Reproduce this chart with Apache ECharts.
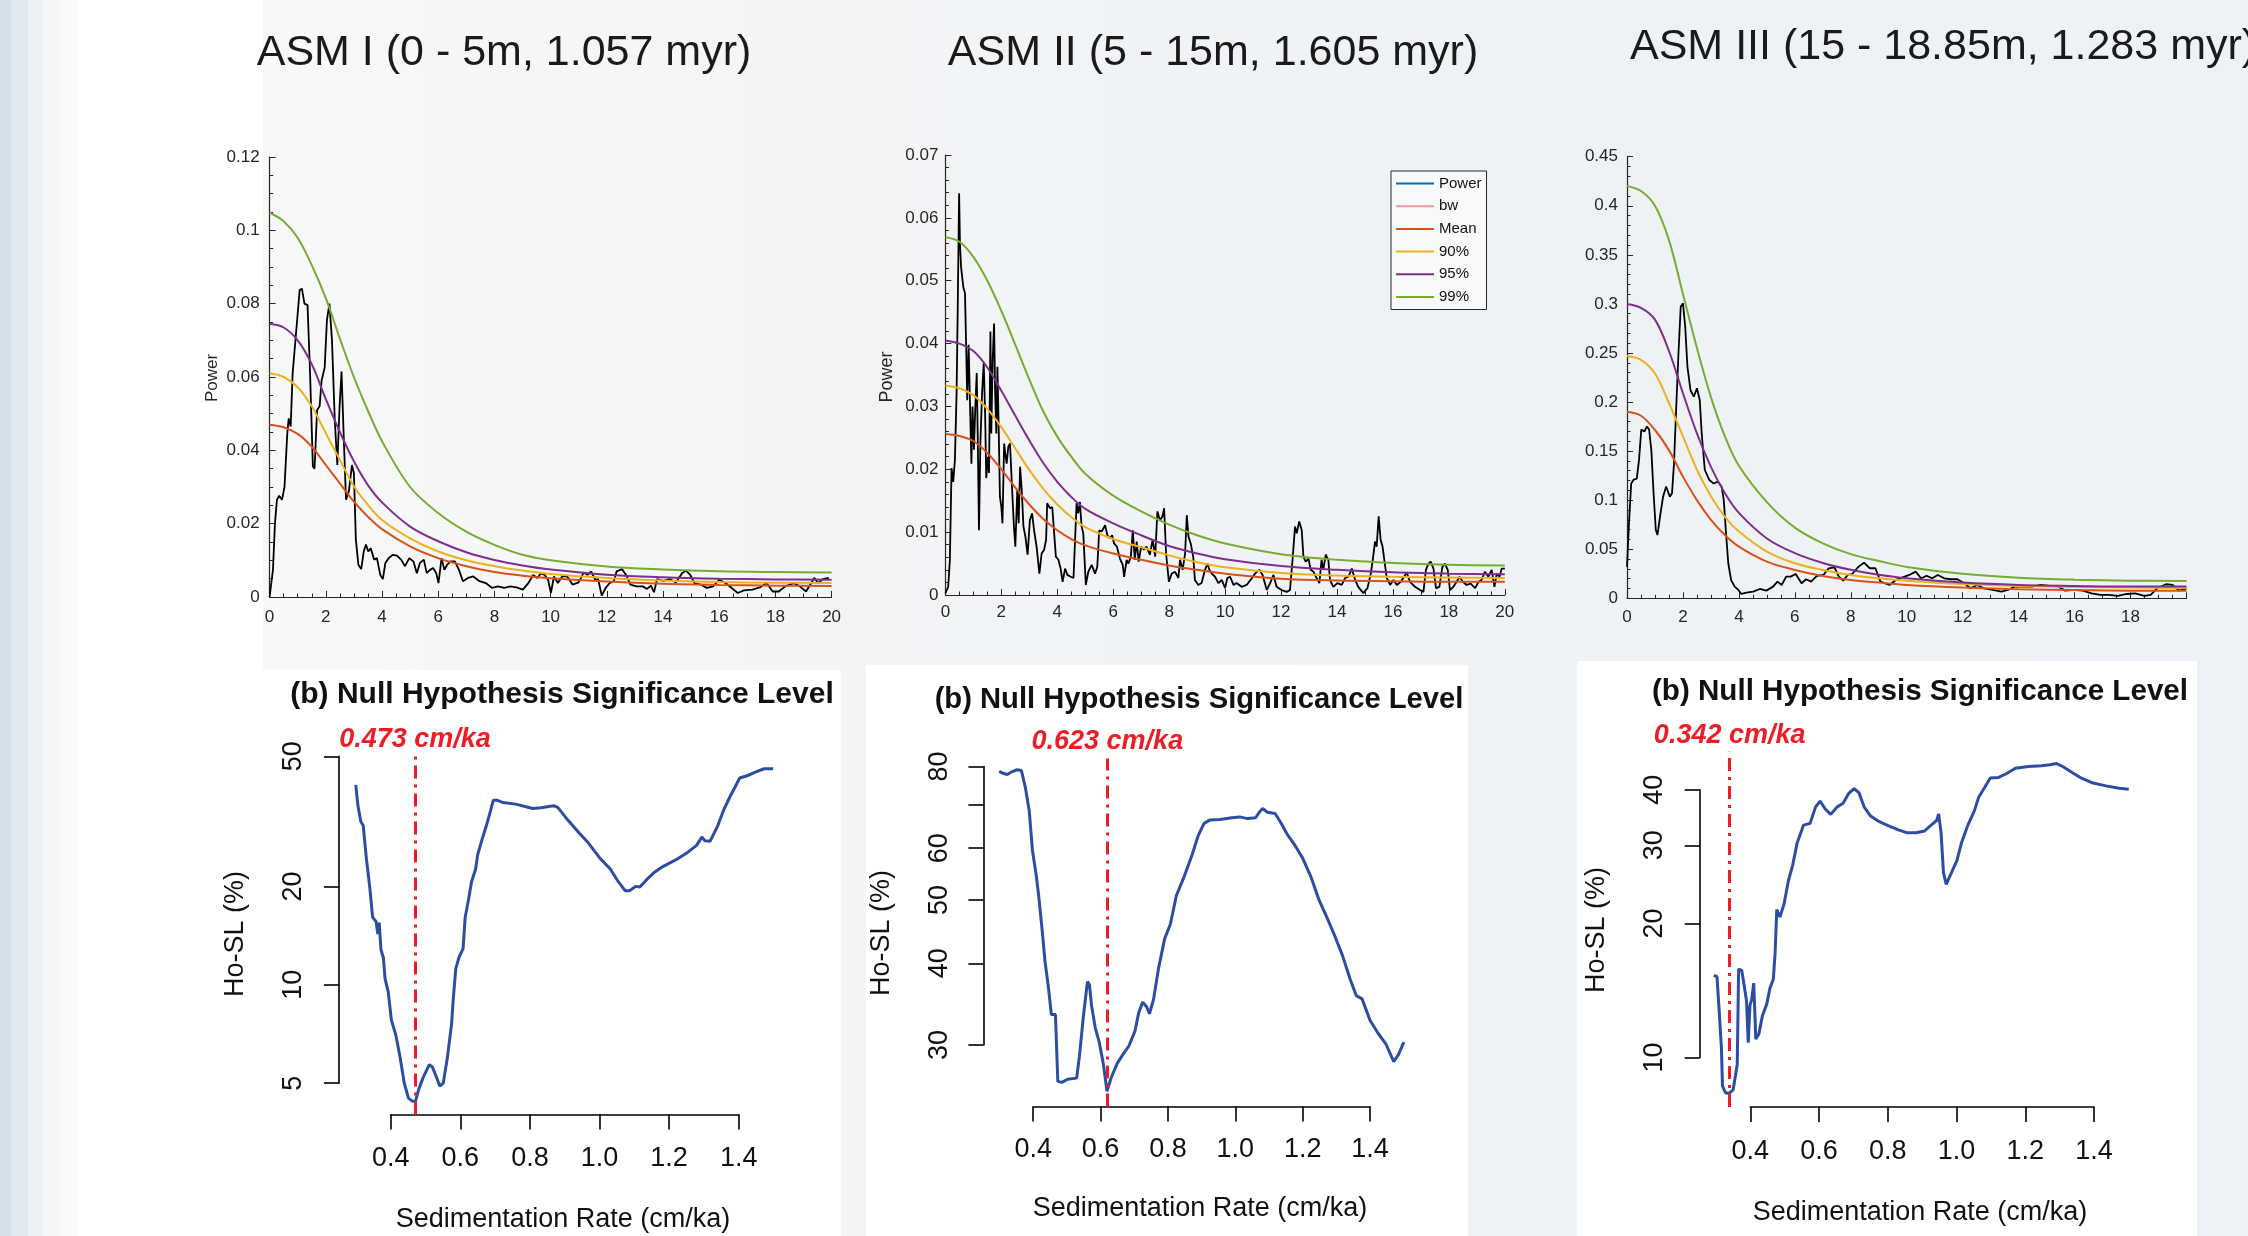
<!DOCTYPE html>
<html><head><meta charset="utf-8">
<script src="https://cdn.jsdelivr.net/npm/echarts@6/dist/echarts.min.js"></script>
<style>
html,body{margin:0;padding:0;width:2248px;height:1236px;overflow:hidden;}
body{background:linear-gradient(to right,#d5dfe8 0px,#d5dfe8 11px,#e3e9f0 11px,#e3e9f0 28px,#edf1f5 28px,#edf1f5 43px,#f4f6f8 43px,#f4f6f8 60px,#f9fafb 60px,#f9fafb 78px,#ffffff 78px,#ffffff 200px,#f7f8fa 263px,#f2f4f6 900px,#eff2f5 1500px,#eef1f5 2248px);}
.panel{position:absolute;background:#fff;}
#chart{position:absolute;left:0;top:0;width:2248px;height:1236px;}
</style></head>
<body>
<div class="panel" style="left:78px;top:0;width:185px;height:670px"></div>
<div class="panel" style="left:78px;top:670px;width:763px;height:566px"></div>
<div class="panel" style="left:866px;top:665px;width:602px;height:571px"></div>
<div class="panel" style="left:1577px;top:661px;width:620px;height:575px"></div>
<div id="chart"></div>
<script>
// ================= DATA =================
const topTitles = ['ASM I (0 - 5m, 1.057 myr)', 'ASM II (5 - 15m, 1.605 myr)', 'ASM III (15 - 18.85m, 1.283 myr)'];
const legendNames = ['Power', 'bw', 'Mean', '90%', '95%', '99%'];

// ASM I power spectrum [frequency, power]
const asm1Power = [[0,0],[0.12,0.0075],[0.19,0.020],[0.26,0.0265],[0.34,0.0276],[0.44,0.0265],[0.53,0.030],[0.63,0.0447],[0.68,0.0487],[0.75,0.0465],[0.82,0.061],[0.97,0.0746],[1.07,0.0837],[1.15,0.0841],[1.24,0.080],[1.35,0.0796],[1.44,0.061],[1.54,0.0356],[1.60,0.035],[1.69,0.051],[1.78,0.052],[1.85,0.059],[1.96,0.0626],[2.04,0.0755],[2.13,0.080],[2.22,0.070],[2.32,0.048],[2.41,0.036],[2.49,0.052],[2.56,0.0615],[2.63,0.0454],[2.72,0.0265],[2.82,0.0288],[2.93,0.036],[3.0,0.0338],[3.07,0.0156],[3.16,0.0088],[3.26,0.0076],[3.35,0.0124],[3.43,0.0143],[3.51,0.0124],[3.60,0.0133],[3.72,0.0102],[3.82,0.0106],[3.94,0.006],[4.03,0.0049],[4.12,0.0093],[4.24,0.0106],[4.38,0.0115],[4.53,0.0113],[4.68,0.0102],[4.82,0.0084],[4.97,0.0106],[5.12,0.0097],[5.24,0.0065],[5.35,0.0093],[5.49,0.0102],[5.59,0.0065],[5.71,0.0074],[5.82,0.0079],[5.93,0.0065],[6.01,0.0038],[6.12,0.0106],[6.22,0.0074],[6.32,0.0088],[6.44,0.0097],[6.59,0.0097],[6.74,0.0074],[6.88,0.0043],[7.06,0.0052],[7.25,0.0056],[7.47,0.0043],[7.69,0.0038],[7.91,0.0025],[8.13,0.0029],[8.35,0.0025],[8.57,0.0029],[8.79,0.0026],[9.01,0.002],[9.21,0.0038],[9.38,0.006],[9.53,0.0052],[9.65,0.0065],[9.79,0.006],[9.91,0.0047],[10.01,0.0011],[10.12,0.0056],[10.26,0.0038],[10.41,0.0056],[10.59,0.0056],[10.78,0.0034],[11.0,0.004],[11.18,0.0067],[11.32,0.006],[11.44,0.007],[11.59,0.0047],[11.69,0.0049],[11.82,0.0004],[11.96,0.0025],[12.1,0.0038],[12.25,0.0043],[12.35,0.007],[12.54,0.0076],[12.69,0.006],[12.84,0.0034],[13.06,0.0029],[13.28,0.0029],[13.43,0.0022],[13.57,0.0031],[13.68,0.0013],[13.79,0.0049],[14.01,0.0044],[14.24,0.0049],[14.46,0.004],[14.68,0.0065],[14.82,0.0072],[14.97,0.006],[15.12,0.0038],[15.34,0.0034],[15.56,0.0025],[15.78,0.0029],[16.0,0.0047],[16.22,0.0038],[16.44,0.0025],[16.66,0.0011],[16.88,0.0018],[17.18,0.002],[17.47,0.0027],[17.69,0.0038],[17.9,0.0015],[18.12,0.0015],[18.35,0.0029],[18.65,0.0038],[18.87,0.0029],[19.09,0.0015],[19.24,0.0034],[19.38,0.0052],[19.53,0.0038],[19.68,0.0049],[19.9,0.0052]];
const curveX1 = [0,0.5,1,1.5,2,2.5,3,3.5,4,5,6,7,8,9,10,12,14,16,18,20];
const asm1P99  = [0.1048,0.1025,0.098,0.0905,0.0815,0.0705,0.060,0.0508,0.0425,0.030,0.0229,0.0178,0.0142,0.0115,0.0100,0.0083,0.0075,0.0070,0.0068,0.0067];
const asm1P95  = [0.0745,0.0735,0.070,0.0635,0.0540,0.0450,0.0370,0.0305,0.0258,0.0192,0.0152,0.0122,0.0101,0.0086,0.0075,0.0061,0.0054,0.0050,0.0048,0.0047];
const asm1P90  = [0.061,0.060,0.0572,0.052,0.0447,0.0374,0.0302,0.0251,0.021,0.016,0.0124,0.0100,0.0084,0.0072,0.0063,0.0052,0.0045,0.0041,0.0039,0.0038];
const asm1Mean = [0.047,0.0463,0.0445,0.041,0.036,0.031,0.026,0.0219,0.0185,0.0138,0.0106,0.0084,0.0068,0.0058,0.0051,0.0042,0.0036,0.0033,0.0031,0.0030];

// ASM II power spectrum
const asm2Power = [[0,0.0003],[0.1,0.0013],[0.16,0.0056],[0.22,0.0202],[0.28,0.018],[0.34,0.0215],[0.4,0.0321],[0.44,0.0453],[0.49,0.0639],[0.52,0.056],[0.56,0.0522],[0.64,0.049],[0.7,0.048],[0.74,0.040],[0.78,0.031],[0.83,0.0398],[0.88,0.040],[0.93,0.0209],[0.97,0.030],[1.02,0.0231],[1.07,0.030],[1.12,0.0353],[1.16,0.0241],[1.2,0.0103],[1.25,0.0241],[1.31,0.032],[1.37,0.0369],[1.42,0.0289],[1.46,0.0186],[1.52,0.022],[1.56,0.0194],[1.61,0.0419],[1.64,0.0257],[1.69,0.0374],[1.74,0.0432],[1.78,0.032],[1.82,0.0257],[1.86,0.0363],[1.9,0.0278],[1.95,0.0156],[2.0,0.014],[2.04,0.0114],[2.1,0.0241],[2.14,0.0225],[2.19,0.0209],[2.25,0.0236],[2.31,0.0241],[2.38,0.0172],[2.45,0.0109],[2.5,0.0077],[2.57,0.0167],[2.62,0.0114],[2.67,0.0204],[2.73,0.0167],[2.79,0.0109],[2.86,0.0093],[2.94,0.0064],[3.02,0.0119],[3.1,0.013],[3.17,0.0103],[3.26,0.0077],[3.36,0.0034],[3.44,0.0066],[3.53,0.0072],[3.6,0.0088],[3.64,0.0146],[3.74,0.0138],[3.82,0.014],[3.89,0.0143],[3.95,0.0061],[4.04,0.0056],[4.12,0.0042],[4.19,0.0021],[4.28,0.0042],[4.36,0.0032],[4.48,0.0029],[4.58,0.0027],[4.63,0.0029],[4.69,0.0146],[4.75,0.013],[4.81,0.0148],[4.87,0.0109],[4.93,0.0098],[5.02,0.0016],[5.11,0.0037],[5.23,0.0048],[5.35,0.0034],[5.43,0.0045],[5.5,0.0103],[5.59,0.0101],[5.71,0.0111],[5.79,0.0095],[5.88,0.009],[5.96,0.0095],[6.03,0.0082],[6.13,0.0077],[6.24,0.0058],[6.34,0.0048],[6.39,0.0029],[6.48,0.0056],[6.54,0.005],[6.63,0.0061],[6.7,0.0103],[6.77,0.0056],[6.84,0.0085],[6.91,0.0053],[7.0,0.0077],[7.1,0.0072],[7.19,0.0077],[7.31,0.0064],[7.41,0.0088],[7.5,0.0061],[7.58,0.0133],[7.67,0.0119],[7.76,0.0125],[7.82,0.0138],[7.89,0.0066],[7.99,0.0021],[8.09,0.0034],[8.21,0.0037],[8.33,0.0027],[8.39,0.0056],[8.48,0.004],[8.57,0.0066],[8.63,0.0127],[8.69,0.0093],[8.77,0.0082],[8.86,0.0061],[8.92,0.0024],[9.04,0.0016],[9.16,0.0019],[9.28,0.004],[9.37,0.005],[9.44,0.004],[9.52,0.0034],[9.64,0.0029],[9.76,0.0019],[9.88,0.0024],[10.0,0.0011],[10.08,0.0027],[10.18,0.0029],[10.3,0.0016],[10.41,0.0019],[10.59,0.0013],[10.77,0.0016],[10.91,0.0024],[11.07,0.0034],[11.22,0.004],[11.34,0.0032],[11.49,0.0008],[11.61,0.0019],[11.73,0.0032],[11.84,0.0013],[12.02,0.0008],[12.2,0.0005],[12.32,0.0008],[12.42,0.0061],[12.5,0.0109],[12.56,0.0098],[12.65,0.0117],[12.74,0.0103],[12.8,0.0061],[12.88,0.0053],[12.98,0.0058],[13.06,0.004],[13.16,0.0037],[13.27,0.0027],[13.37,0.0019],[13.45,0.0056],[13.51,0.004],[13.6,0.0064],[13.69,0.0056],[13.75,0.0024],[13.87,0.0013],[14.01,0.0019],[14.17,0.0016],[14.29,0.0027],[14.41,0.0029],[14.53,0.0042],[14.65,0.0024],[14.76,0.0013],[14.94,0.0003],[15.09,0.0011],[15.21,0.0034],[15.28,0.0056],[15.36,0.0085],[15.42,0.0077],[15.49,0.0125],[15.56,0.0088],[15.63,0.0077],[15.71,0.005],[15.78,0.0027],[15.9,0.0016],[16.02,0.0024],[16.14,0.0016],[16.28,0.0021],[16.4,0.0029],[16.49,0.0036],[16.61,0.0021],[16.79,0.0013],[16.97,0.0008],[17.09,0.0005],[17.18,0.004],[17.27,0.005],[17.35,0.0053],[17.45,0.0042],[17.54,0.0011],[17.66,0.0013],[17.77,0.0045],[17.86,0.005],[17.96,0.004],[18.04,0.0008],[18.16,0.0013],[18.28,0.0021],[18.38,0.0029],[18.5,0.0021],[18.64,0.0016],[18.78,0.0018],[18.94,0.0011],[19.06,0.0021],[19.17,0.0024],[19.29,0.0037],[19.41,0.0029],[19.53,0.004],[19.63,0.0013],[19.71,0.0034],[19.81,0.0029],[19.89,0.0042],[20.0,0.0042]];
const curveX2 = [0,0.5,1,1.5,2,2.5,3,3.5,4,4.5,5,6,7,8,9,10,12,14,16,18,20];
const asm2P99  = [0.0569,0.0562,0.0538,0.0500,0.0452,0.0398,0.0343,0.0292,0.0252,0.0220,0.0193,0.0158,0.0133,0.0112,0.0095,0.0082,0.0065,0.0056,0.0051,0.0048,0.0047];
const asm2P95  = [0.0405,0.0400,0.0388,0.0362,0.0325,0.0285,0.0246,0.0210,0.0180,0.0156,0.0137,0.0114,0.0095,0.0078,0.0066,0.0057,0.0046,0.0040,0.0036,0.0034,0.0033];
const asm2P90  = [0.0333,0.0329,0.0318,0.0296,0.0267,0.0233,0.0199,0.0169,0.0144,0.0124,0.0108,0.0089,0.0076,0.0063,0.0052,0.0044,0.0035,0.0031,0.0029,0.0028,0.0027];
const asm2Mean = [0.0256,0.0253,0.0245,0.0226,0.0200,0.0171,0.0144,0.0121,0.0103,0.0089,0.0079,0.0066,0.0056,0.0047,0.0040,0.0034,0.0026,0.0023,0.0022,0.0021,0.0021];

// ASM III power spectrum
const asm3Power = [[0,0.032],[0.07,0.076],[0.15,0.117],[0.24,0.121],[0.35,0.122],[0.43,0.141],[0.51,0.172],[0.62,0.170],[0.71,0.175],[0.79,0.172],[0.87,0.151],[0.95,0.107],[1.03,0.0696],[1.09,0.0645],[1.18,0.0832],[1.29,0.1036],[1.4,0.114],[1.53,0.1036],[1.61,0.107],[1.68,0.1376],[1.76,0.195],[1.84,0.2497],[1.92,0.297],[2.0,0.3006],[2.08,0.277],[2.16,0.236],[2.27,0.212],[2.39,0.2055],[2.5,0.214],[2.6,0.202],[2.67,0.168],[2.78,0.131],[2.94,0.1206],[3.1,0.117],[3.25,0.119],[3.38,0.114],[3.46,0.100],[3.54,0.0662],[3.62,0.0357],[3.72,0.0187],[3.85,0.0119],[3.98,0.0085],[4.09,0.0044],[4.27,0.0058],[4.51,0.0068],[4.75,0.0095],[4.98,0.0078],[5.22,0.0119],[5.38,0.017],[5.53,0.0136],[5.69,0.0221],[5.85,0.0221],[6.03,0.0248],[6.24,0.0153],[6.4,0.0194],[6.58,0.017],[6.79,0.0228],[7.02,0.0238],[7.21,0.0306],[7.42,0.0316],[7.57,0.0221],[7.73,0.018],[7.89,0.0238],[8.04,0.0245],[8.28,0.0323],[8.47,0.0363],[8.68,0.0306],[8.88,0.0306],[9.06,0.017],[9.38,0.0136],[9.61,0.0187],[9.85,0.0214],[10.09,0.0238],[10.32,0.0272],[10.51,0.0204],[10.71,0.0228],[10.91,0.0204],[11.11,0.0238],[11.34,0.0204],[11.58,0.0194],[11.81,0.0194],[12.05,0.0153],[12.28,0.0102],[12.52,0.0136],[12.75,0.0102],[13.07,0.0085],[13.38,0.0068],[13.62,0.0085],[13.85,0.0119],[14.16,0.0119],[14.48,0.0119],[14.79,0.0136],[15.11,0.0126],[15.42,0.0119],[15.66,0.0078],[15.98,0.0085],[16.29,0.0078],[16.61,0.0051],[16.92,0.0034],[17.23,0.0034],[17.55,0.0024],[17.86,0.0044],[18.17,0.0051],[18.49,0.0024],[18.72,0.0034],[18.95,0.0102],[19.27,0.0143],[19.5,0.0136],[19.74,0.0078],[20.0,0.0102]];
const curveX3 = [0,0.5,1,1.5,2,2.5,3,3.5,4,5,6,7,8,9,10,12,14,16,18,20];
const asm3P99  = [0.420,0.415,0.400,0.365,0.310,0.255,0.205,0.165,0.135,0.098,0.072,0.056,0.045,0.038,0.032,0.025,0.021,0.019,0.018,0.0177];
const asm3P95  = [0.300,0.296,0.284,0.252,0.209,0.168,0.134,0.107,0.087,0.061,0.046,0.036,0.029,0.024,0.0204,0.016,0.0136,0.0126,0.0119,0.0119];
const asm3P90  = [0.247,0.243,0.229,0.199,0.165,0.131,0.104,0.083,0.068,0.0476,0.0357,0.0289,0.0238,0.0205,0.018,0.0146,0.0126,0.0115,0.0109,0.0105];
const asm3Mean = [0.190,0.186,0.1715,0.151,0.124,0.100,0.080,0.0645,0.0527,0.0374,0.0289,0.0228,0.0187,0.016,0.0136,0.0109,0.0092,0.0085,0.0078,0.0078];

// Null hypothesis significance level [sed. rate cm/ka, Ho-SL %]
const hosl1 = [[0.2996,40.9],[0.3057,35.4],[0.314,31.6],[0.321,30.7],[0.33,24.4],[0.34,19.8],[0.348,16.1],[0.358,15.6],[0.363,14.3],[0.367,15.5],[0.372,12.8],[0.379,12.1],[0.384,10.4],[0.393,9.5],[0.402,7.8],[0.415,7.0],[0.427,6.0],[0.439,5.0],[0.451,4.5],[0.463,4.4],[0.471,4.4],[0.481,4.8],[0.493,5.2],[0.511,5.7],[0.52,5.6],[0.532,5.2],[0.541,4.9],[0.551,5.0],[0.563,6.0],[0.575,7.6],[0.58,9.1],[0.587,11.2],[0.596,12.1],[0.608,12.9],[0.614,16.1],[0.624,18.3],[0.632,20.6],[0.644,22.6],[0.65,25.0],[0.662,27.7],[0.675,30.7],[0.687,34.1],[0.695,36.7],[0.705,36.7],[0.723,36.1],[0.759,35.7],[0.808,34.6],[0.832,34.8],[0.868,35.3],[0.88,34.9],[0.904,32.4],[0.941,29.2],[0.965,27.4],[1.001,24.4],[1.031,22.6],[1.055,20.6],[1.074,19.4],[1.086,19.4],[1.104,20.0],[1.116,19.9],[1.134,20.9],[1.158,22.1],[1.182,23.0],[1.219,24.1],[1.255,25.5],[1.279,26.7],[1.294,28.3],[1.303,27.6],[1.318,27.5],[1.34,30.7],[1.358,34.5],[1.376,37.8],[1.403,42.9],[1.424,43.6],[1.448,44.7],[1.473,45.8],[1.499,45.8]];
const hosl2 = [[0.299,78.7],[0.308,78.2],[0.323,77.8],[0.338,78.6],[0.352,79.1],[0.365,78.9],[0.377,74.2],[0.388,68.6],[0.398,59.4],[0.408,55.0],[0.416,50.9],[0.426,45.3],[0.435,40.3],[0.445,36.8],[0.454,33.4],[0.466,33.4],[0.473,26.4],[0.485,26.3],[0.502,26.6],[0.529,26.7],[0.537,28.8],[0.549,33.2],[0.561,37.5],[0.567,37.1],[0.573,34.5],[0.584,31.9],[0.596,30.3],[0.608,28.1],[0.619,25.5],[0.631,26.7],[0.649,28.1],[0.666,29.0],[0.684,29.9],[0.702,31.5],[0.713,33.6],[0.725,34.9],[0.737,34.3],[0.745,33.5],[0.757,35.2],[0.772,39.3],[0.79,43.6],[0.807,45.9],[0.825,50.8],[0.848,54.3],[0.872,58.7],[0.889,62.6],[0.907,65.5],[0.925,66.3],[0.954,66.4],[0.989,66.8],[1.013,67.0],[1.036,66.6],[1.06,66.8],[1.071,68.1],[1.081,69.0],[1.095,68.1],[1.118,67.8],[1.136,65.5],[1.154,63.0],[1.177,60.6],[1.2,57.9],[1.224,54.3],[1.247,50.2],[1.271,47.1],[1.294,44.2],[1.318,41.1],[1.341,37.8],[1.359,35.7],[1.376,35.3],[1.4,32.7],[1.423,31.3],[1.447,30.1],[1.47,28.3],[1.484,29.0],[1.5,30.3]];
const hosl3 = [[0.294,15.3],[0.303,15.2],[0.309,12.9],[0.316,10.5],[0.319,8.63],[0.328,8.33],[0.338,8.3],[0.35,8.46],[0.357,9.12],[0.362,9.66],[0.366,15.8],[0.375,15.7],[0.381,14.7],[0.389,13.4],[0.394,10.8],[0.399,13.1],[0.404,13.5],[0.41,14.7],[0.416,11.0],[0.425,11.3],[0.435,12.4],[0.448,13.2],[0.457,14.3],[0.467,15.0],[0.472,17.1],[0.477,21.5],[0.486,20.7],[0.498,22.1],[0.511,25.0],[0.523,27.0],[0.536,30.3],[0.555,33.3],[0.574,33.6],[0.59,36.6],[0.603,37.7],[0.618,36.2],[0.634,35.2],[0.653,36.6],[0.67,37.3],[0.687,39.3],[0.702,40.2],[0.716,39.4],[0.731,36.6],[0.75,34.9],[0.775,33.9],[0.806,33.1],[0.831,32.5],[0.857,32.0],[0.882,32.0],[0.907,32.3],[0.926,33.3],[0.942,34.1],[0.948,35.3],[0.955,32.0],[0.962,26.0],[0.97,24.5],[0.982,25.7],[1.001,27.7],[1.014,30.3],[1.033,33.3],[1.052,35.9],[1.064,38.4],[1.083,40.6],[1.098,42.5],[1.121,42.6],[1.146,43.5],[1.171,44.7],[1.209,45.1],[1.247,45.3],[1.272,45.5],[1.291,45.8],[1.309,45.1],[1.335,43.8],[1.36,42.6],[1.397,41.4],[1.435,40.8],[1.473,40.3],[1.501,40.1]];
const optimalRates = [0.473, 0.623, 0.342];
const rateLabels = ['0.473 cm/ka', '0.623 cm/ka', '0.342 cm/ka'];
const hoslTicks = [[5,10,20,50],[30,40,50,60,70,80],[10,20,30,40]];
const hoslTickLabels = [[5,10,20,50],[30,40,50,60,80],[10,20,30,40]];
const bottomTitle = '(b) Null Hypothesis Significance Level';
const bottomXName = 'Sedimentation Rate (cm/ka)';
const bottomYName = 'Ho-SL (%)';

// ================= LAYOUT / STYLE =================
const FONT = '"Liberation Sans", Arial, Helvetica, sans-serif';
const C = {power:'#000000', bw:'#f29a9a', mean:'#D95319', p90:'#EDB120', p95:'#7E2F8E', p99:'#77AC30', hosl:'#2c4ea2', red:'#ee1c25', axis:'#262626'};
const zip = (xs, ys) => xs.map((x, i) => [x, ys[i]]);

const grids = [], xAxes = [], yAxes = [], series = [];
function addGrid(g, xa, ya) {
  grids.push(Object.assign({containLabel:false}, g));
  const i = grids.length - 1;
  xAxes.push(Object.assign({gridIndex:i}, xa));
  yAxes.push(Object.assign({gridIndex:i}, ya));
  return i;
}
const hiddenValue = {type:'value', show:false, min:0, max:1, axisLine:{onZero:false}};

// ---- top power spectra ----
const topDefs = [
  {grid:{left:269.6, top:157, width:562, height:440}, yMax:0.12, yInt:0.02, yMinor:4, xMargin:12, yMargin:10, hide20:false,
   power:asm1Power, cx:curveX1, mean:asm1Mean, p90:asm1P90, p95:asm1P95, p99:asm1P99},
  {grid:{left:945.4, top:155, width:559.4, height:440}, yMax:0.07, yInt:0.01, yMinor:5, xMargin:9, yMargin:7, hide20:false,
   power:asm2Power, cx:curveX2, mean:asm2Mean, p90:asm2P90, p95:asm2P95, p99:asm2P99},
  {grid:{left:1627, top:156.7, width:559.5, height:441.6}, yMax:0.45, yInt:0.05, yMinor:5, xMargin:11, yMargin:9, hide20:true,
   power:asm3Power, cx:curveX3, mean:asm3Mean, p90:asm3P90, p95:asm3P95, p99:asm3P99}
];
topDefs.forEach((d, k) => {
  const common = {
    axisLine:{show:true, onZero:false, lineStyle:{color:C.axis, width:1.2}},
    axisTick:{show:true, inside:true, length:6, lineStyle:{color:C.axis, width:1}},
    minorTick:{show:true, length:3.5, lineStyle:{color:C.axis, width:1}},
    splitLine:{show:false}, minorSplitLine:{show:false}
  };
  const gi = addGrid(d.grid,
    Object.assign({}, common, {type:'value', min:0, max:20, interval:2,
      minorTick:Object.assign({}, common.minorTick, {splitNumber:4}),
      axisLabel:{fontSize:17, color:C.axis, fontFamily:FONT, margin:d.xMargin,
        formatter: v => (d.hide20 && v === 20) ? '' : String(v)}}),
    Object.assign({}, common, {type:'value', min:0, max:d.yMax, interval:d.yInt,
      minorTick:Object.assign({}, common.minorTick, {splitNumber:d.yMinor}),
      axisLabel:{fontSize:17, color:C.axis, fontFamily:FONT, margin:d.yMargin}})
  );
  series.push({type:'line', name:'Power', xAxisIndex:gi, yAxisIndex:gi, data:d.power, symbol:'none',
    lineStyle:{color:C.power, width:1.8}, itemStyle:{color:C.power}, z:3, silent:true});
  if (k === 1) series.push({type:'line', name:'bw', xAxisIndex:gi, yAxisIndex:gi, data:[], symbol:'none',
    lineStyle:{color:C.bw, width:2}, itemStyle:{color:C.bw}});
  [['Mean', d.mean, C.mean], ['90%', d.p90, C.p90], ['95%', d.p95, C.p95], ['99%', d.p99, C.p99]].forEach(s => {
    series.push({type:'line', name:s[0], xAxisIndex:gi, yAxisIndex:gi, data:zip(d.cx, s[1]), smooth:0.35, symbol:'none',
      lineStyle:{color:s[2], width:2}, itemStyle:{color:s[2]}, z:4, silent:true});
  });
});

// ---- bottom Ho-SL panels ----
const botDefs = [
  {data:{left:338.9, top:756.3, width:451.4, height:358.1}, xr:[0.25115,1.54828], yr:[4.0135,50],
   xg:{left:390.7, width:348, top:1100, height:14.4}, yg:{left:338.9, width:10, top:756.3, height:326.9}, yt:[5,50], xMargin:31, yMargin:32, hosl:hosl1},
  {data:{left:983.4, top:758.5, width:436.6, height:347.9}, xr:[0.25218,1.548], yr:[24.17,82.3],
   xg:{left:1033.2, width:336.9, top:1090, height:16.4}, yg:{left:983.4, width:10, top:766.5, height:278.5}, yt:[30,80], xMargin:29.5, yMargin:30.5, hosl:hosl2},
  {data:{left:1699.7, top:751.8, width:445.2, height:355.3}, xr:[0.25278,1.548], yr:[7.735,48.67],
   xg:{left:1750.3, width:343.7, top:1090, height:17.1}, yg:{left:1699.7, width:10, top:789.7, height:267.8}, yt:[10,40], xMargin:31, yMargin:32, hosl:hosl3}
];
const rAxisLine = {show:true, onZero:false, lineStyle:{color:'#000', width:1.6}};
const rTick = {show:true, inside:false, length:15, lineStyle:{color:'#000', width:1.6}};
botDefs.forEach((d, k) => {
  const gi = addGrid(d.data,
    {type:'value', min:d.xr[0], max:d.xr[1], show:false, axisLine:{onZero:false}},
    {type:'log', logBase:10, min:d.yr[0], max:d.yr[1], show:false, axisLine:{onZero:false}});
  series.push({type:'line', name:'hosl' + k, xAxisIndex:gi, yAxisIndex:gi, data:d.hosl, symbol:'none', silent:true,
    lineStyle:{color:C.hosl, width:3}, itemStyle:{color:C.hosl}, z:3,
    markLine:{silent:true, symbol:['none','none'], animation:false,
      lineStyle:{color:C.red, width:3, type:[13,6,3,6]},
      label:{show:true, position:'end', distance:3, formatter:rateLabels[k], color:C.red, fontSize:27,
        fontWeight:'bold', fontStyle:'italic', fontFamily:FONT},
      data:[{xAxis:optimalRates[k]}]}});
  // x axis (0.4 .. 1.4)
  addGrid(d.xg,
    {type:'value', min:0.4, max:1.4, interval:0.2, position:'bottom', axisLine:rAxisLine, axisTick:rTick,
     splitLine:{show:false}, axisLabel:{fontSize:27, color:'#111', fontFamily:FONT, margin:d.xMargin, formatter:v => v.toFixed(1)}},
    hiddenValue);
  // y axis (log)
  addGrid(d.yg, hiddenValue,
    {type:'log', logBase:10, min:d.yt[0], max:d.yt[1], position:'left', axisLine:rAxisLine,
     axisTick:Object.assign({}, rTick, {customValues:hoslTicks[k]}), minorTick:{show:false},
     splitLine:{show:false}, minorSplitLine:{show:false},
     axisLabel:{customValues:hoslTickLabels[k], rotate:90, fontSize:27, color:'#111', fontFamily:FONT, margin:d.yMargin}});
});

// ---- texts ----
function txt(t, x, y, size, opts) {
  return Object.assign({type:'text', x:x, y:y, silent:true, z:10,
    style:Object.assign({text:t, fontSize:size, fontFamily:FONT, fill:'#1a1a1a', align:'center', verticalAlign:'middle'}, (opts && opts.style) || {})},
    opts && opts.rotation ? {rotation:opts.rotation} : {});
}
const R90 = Math.PI / 2;
const graphics = [
  txt(topTitles[0], 504, 53, 43),
  txt(topTitles[1], 1213, 53, 43),
  txt(topTitles[2], 1630, 47, 43, {style:{align:'left'}}),
  txt('Power', 212.8, 378, 17, {rotation:R90, style:{fill:'#262626'}}),
  txt('Power', 887.4, 377, 18, {rotation:R90, style:{fill:'#262626'}}),
  txt(bottomTitle, 562, 695, 30, {style:{fontWeight:'bold', fill:'#111'}}),
  txt(bottomTitle, 1199, 700, 29.2, {style:{fontWeight:'bold', fill:'#111'}}),
  txt(bottomTitle, 1920, 692, 29.6, {style:{fontWeight:'bold', fill:'#111'}}),
  txt(bottomYName, 235.8, 934, 27, {rotation:R90, style:{fill:'#111'}}),
  txt(bottomYName, 882, 933, 27, {rotation:R90, style:{fill:'#111'}}),
  txt(bottomYName, 1597, 930, 27, {rotation:R90, style:{fill:'#111'}}),
  txt(bottomXName, 563, 1220, 27, {style:{fill:'#111'}}),
  txt(bottomXName, 1200, 1209, 27, {style:{fill:'#111'}}),
  txt(bottomXName, 1920, 1213, 27, {style:{fill:'#111'}})
];

const chart = echarts.init(document.getElementById('chart'), null, {renderer:'canvas'});
chart.setOption({
  animation:false,
  backgroundColor:'transparent',
  textStyle:{fontFamily:FONT},
  grid:grids, xAxis:xAxes, yAxis:yAxes, series:series,
  legend:{show:true, left:1391, top:171, orient:'vertical', padding:[5,5,5,5], icon:'rect', itemWidth:38, itemHeight:2, itemGap:7.7,
    borderColor:'#262626', borderWidth:1, backgroundColor:'#f8f9fa', selectedMode:false,
    textStyle:{fontSize:15, lineHeight:14, color:'#111', fontFamily:FONT},
    data:[{name:'Power', itemStyle:{color:'#0072BD'}}, 'bw', 'Mean', '90%', '95%', '99%']},
  graphic:graphics
});
</script>
</body></html>
